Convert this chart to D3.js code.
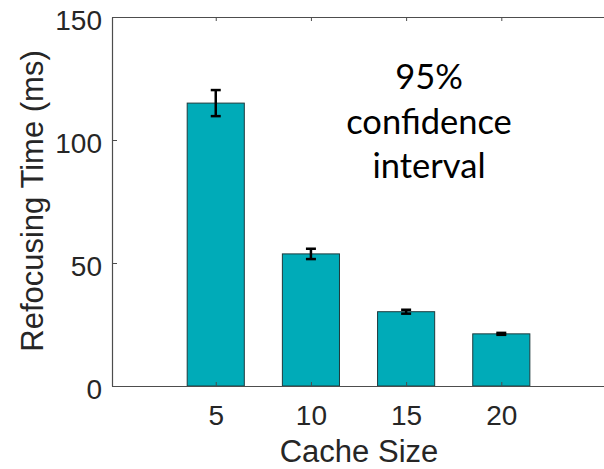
<!DOCTYPE html>
<html><head><meta charset="utf-8">
<script src="https://cdn.jsdelivr.net/npm/d3@7"></script>
<style>html,body{margin:0;padding:0;background:#fff;}svg{display:block;}</style>
</head><body>
<svg id="c" width="604" height="469"></svg>
<script>
const categories = [5, 10, 15, 20];
const meanValues = [115, 53.7, 30.2, 21.2];
const ciHalfWidth = [5.3, 2.1, 0.8, 0.4];
const yTicks = [0, 50, 100, 150];
const xTicks = [5, 10, 15, 20];
const annotationLines = ["95%", "confidence", "interval"];

(function () {
const svg = d3.select("#c");
const mLeft = 112, mTop = 17, mBottom = 386, mRight = 606;
const x = d3.scaleLinear().domain([-0.45, 25.5]).range([mLeft, mRight]);
const y = d3.scaleLinear().domain([0, 150]).range([mBottom, mTop]);
const barW = x(3) - x(0);
const axisColor = "#4d4d4d";
const textColor = "#262626";
const font = "'Liberation Sans', Arial, sans-serif";

// bars
svg.append("g").selectAll("rect").data(categories).join("rect")
  .attr("x", (d) => x(d) - barW / 2)
  .attr("y", (d, i) => y(meanValues[i]))
  .attr("width", barW)
  .attr("height", (d, i) => y(0) - y(meanValues[i]))
  .attr("fill", "#00abb8")
  .attr("stroke", "#1e3a3d")
  .attr("stroke-width", 1);

// error bars
const eb = svg.append("g").attr("stroke", "#000").attr("stroke-width", 2.5).attr("fill", "none");
categories.forEach((c, i) => {
  const cx = x(c), hi = y(meanValues[i] + ciHalfWidth[i]), lo = y(meanValues[i] - ciHalfWidth[i]);
  eb.append("line").attr("x1", cx).attr("x2", cx).attr("y1", hi).attr("y2", lo);
  eb.append("line").attr("x1", cx - 5).attr("x2", cx + 5).attr("y1", hi).attr("y2", hi);
  eb.append("line").attr("x1", cx - 5).attr("x2", cx + 5).attr("y1", lo).attr("y2", lo);
});

// y axis
const ya = svg.append("g").attr("transform", `translate(${mLeft},0)`)
  .call(d3.axisLeft(y).tickValues(yTicks).tickSizeInner(-5).tickSizeOuter(0).tickPadding(10));
// x axis
const xa = svg.append("g").attr("transform", `translate(0,${mBottom})`)
  .call(d3.axisBottom(x).tickValues(xTicks).tickSizeInner(-4).tickSizeOuter(0).tickPadding(19));
// top axis
const ta = svg.append("g").attr("transform", `translate(0,${mTop})`)
  .call(d3.axisTop(x).tickValues(xTicks).tickSizeInner(-4).tickSizeOuter(0).tickFormat(""));
[ya, xa, ta].forEach(g => {
  g.select(".domain").attr("stroke", axisColor).attr("stroke-width", 1.2);
  g.selectAll(".tick line").attr("stroke", axisColor).attr("stroke-width", 1);
  g.selectAll(".tick text").attr("fill", textColor).style("font-family", font).style("font-size", "28px");
});
ya.selectAll(".tick text").attr("dy", "0.43em");

// axis labels
svg.append("text").attr("x", 359).attr("y", 462).attr("text-anchor", "middle")
  .style("font-family", font).style("font-size", "31px").attr("fill", textColor).text("Cache Size");
svg.append("text").attr("transform", "translate(43,201) rotate(-90)").attr("text-anchor", "middle")
  .style("font-family", font).style("font-size", "31px").attr("fill", textColor).text("Refocusing Time (ms)");

// annotation
svg.append("g").selectAll("text").data(annotationLines).join("text")
  .attr("x", 429).attr("y", (d, i) => 89 + i * 44.5).attr("text-anchor", "middle")
  .style("font-family", "Lato, 'Open Sans', sans-serif").style("font-size", "34.5px").attr("fill", "#000")
  .text(d => d);
})();
</script>
</body></html>
